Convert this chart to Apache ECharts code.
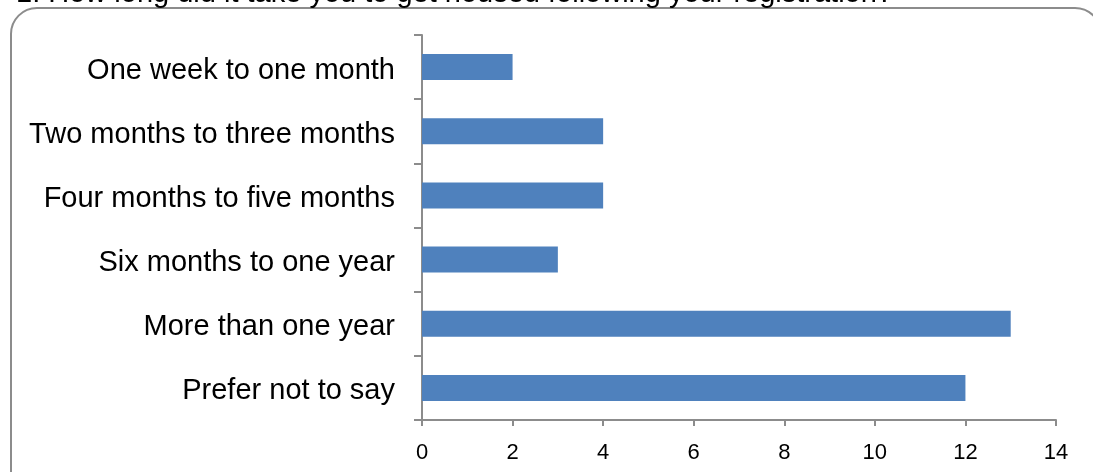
<!DOCTYPE html>
<html>
<head>
<meta charset="utf-8">
<script src="https://cdn.jsdelivr.net/npm/echarts@6/dist/echarts.min.js"></script>
<style>
  html, body { margin: 0; padding: 0; background: #ffffff; }
  #chart { width: 1093px; height: 472px; }
</style>
</head>
<body>
<div id="chart"></div>
<script>
// Survey question and answers
const questionText = '1. How long did it take you to get housed following your registration?';
const categories = [
  'One week to one month',
  'Two months to three months',
  'Four months to five months',
  'Six months to one year',
  'More than one year',
  'Prefer not to say'
];
const responseCounts = [2, 4, 4, 3, 13, 12];
const xTicks = { min: 0, max: 14, interval: 2 };

const chart = echarts.init(document.getElementById('chart'), null, { renderer: 'canvas' });
const axisGrey = '#8c8c8c';
const fontFamily = '"Liberation Sans", Arial, sans-serif';

chart.setOption({
  animation: false,
  backgroundColor: '#ffffff',
  graphic: [
    {
      type: 'rect',
      shape: { x: 11, y: 8, width: 1090, height: 500, r: 26 },
      style: { fill: 'none', stroke: axisGrey, lineWidth: 2 },
      z: 0
    },
    {
      type: 'text',
      x: 16,
      y: -6,
      style: {
        text: questionText,
        font: '29px ' + fontFamily,
        fill: '#000000',
        verticalAlign: 'middle',
        align: 'left'
      }
    }
  ],
  grid: { left: 422, right: 37, top: 35, bottom: 52, containLabel: false },
  xAxis: {
    type: 'value',
    min: xTicks.min,
    max: xTicks.max,
    interval: xTicks.interval,
    axisLine: { show: true, lineStyle: { color: axisGrey, width: 2 } },
    axisTick: { show: true, length: 6, lineStyle: { color: axisGrey, width: 2 } },
    splitLine: { show: false },
    axisLabel: { color: '#000000', fontSize: 22, fontFamily: fontFamily, margin: 22 }
  },
  yAxis: {
    type: 'category',
    data: categories,
    inverse: true,
    axisLine: { show: true, lineStyle: { color: axisGrey, width: 2 } },
    axisTick: { show: true, length: 8, lineStyle: { color: axisGrey, width: 2 } },
    axisLabel: {
      margin: 27,
      formatter: '{cat|{value}}',
      rich: {
        cat: {
          color: '#000000', fontSize: 29, fontFamily: fontFamily,
          padding: [7, 0, 0, 0]
        }
      }
    }
  },
  series: [{
    type: 'bar',
    data: responseCounts,
    barWidth: 26,
    itemStyle: { color: '#4f81bd' }
  }]
});
</script>
</body>
</html>
